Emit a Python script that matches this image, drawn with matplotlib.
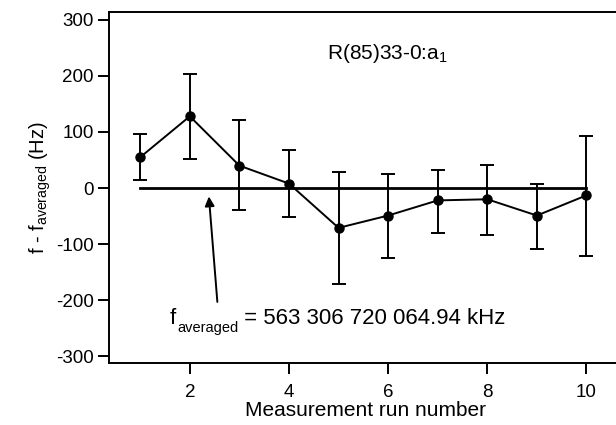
import numpy as np
import matplotlib
matplotlib.use("Agg")
import matplotlib.pyplot as plt

plt.rcParams['font.family'] = ['Liberation Sans', 'DejaVu Sans']
plt.rcParams['mathtext.fontset'] = 'custom'
plt.rcParams['mathtext.rm'] = 'Liberation Sans'
plt.rcParams['mathtext.it'] = 'Liberation Sans'
plt.rcParams['axes.unicode_minus'] = False

# data
runs = [1, 2, 3, 4, 5, 6, 7, 8, 9, 10]
delta_f = [55, 128, 40, 8, -71, -49, -22, -20, -49, -13]
err_up = [41, 76, 81, 60, 100, 74, 55, 62, 57, 105]
err_down = [40, 77, 80, 60, 100, 75, 58, 63, 60, 108]
xticks = [2, 4, 6, 8, 10]
yticks = [-300, -200, -100, 0, 100, 200, 300]

fig = plt.figure(figsize=(6.16, 4.25), dpi=100)
ax = fig.add_axes([109 / 616, 1 - 363 / 425, 1 - 109 / 616 + 0.01, (363 - 12) / 425])

# reference zero line
ax.plot([runs[0], runs[-1]], [0, 0], color='black', lw=2.0)

ax.errorbar(runs, delta_f, yerr=[err_down, err_up], fmt='o-', color='black',
            lw=1.4, ms=6.5, capsize=5, elinewidth=1.4, capthick=1.4)

ax.set_xlim(0.37, 10.72)
ax.set_ylim(-312, 314)
ax.set_xticks(xticks)
ax.set_yticks(yticks)
ax.spines['right'].set_visible(False)
for s in ['left', 'top', 'bottom']:
    ax.spines[s].set_linewidth(1.4)
ax.tick_params(direction='out', length=8, width=1.4, labelsize=13.5, top=False)
ax.tick_params(axis='x', pad=7)
ax.tick_params(axis='y', pad=3)

ax.set_xlabel('Measurement run number', fontsize=15, labelpad=0)
ax.set_ylabel(r'f - f$_{\mathregular{averaged}}$ (Hz)', fontsize=14.5, labelpad=2)

ax.text(4.77, 240, r'R(85)33-0:a$_{\mathregular{1}}$', fontsize=15, va='center')
ax.annotate('', xy=(2.38, -10), xytext=(2.56, -208),
            arrowprops=dict(arrowstyle='-|>', color='black', lw=1.4,
                            mutation_scale=14))

# f_averaged label built from pieces so the subscript stays small
t_f = ax.text(1.6, -251, 'f', fontsize=16, va='bottom')
t_sub = ax.annotate('averaged', xy=(1, 0), xycoords=t_f, xytext=(0.5, -2.5),
                    textcoords='offset points', fontsize=10.5, va='baseline')
ax.annotate(' = 563 306 720 064.94 kHz', xy=(1, 0), xycoords=(t_sub, t_f),
            fontsize=16, va='bottom')

fig.savefig('out.png', dpi=100)
